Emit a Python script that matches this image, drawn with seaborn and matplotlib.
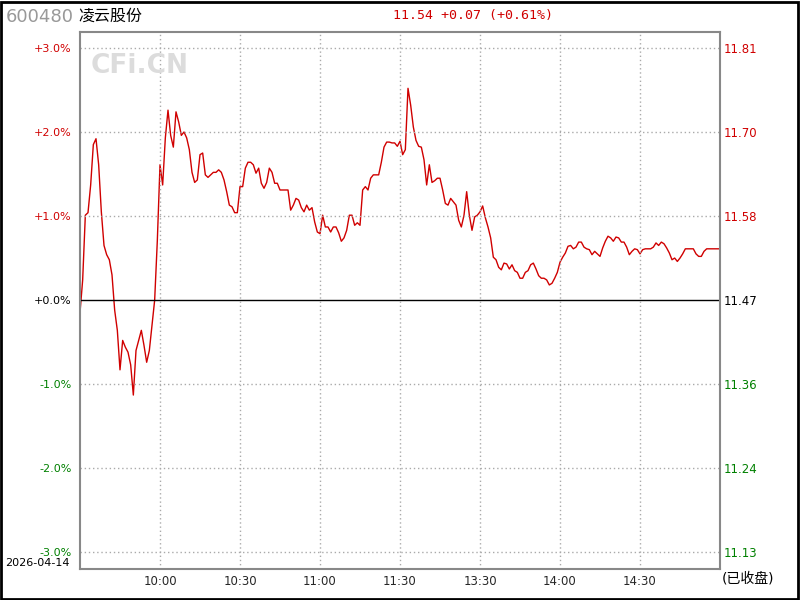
import matplotlib
matplotlib.use("Agg")
import matplotlib.pyplot as plt
import seaborn as sns
import pandas as pd
from matplotlib.patches import Rectangle

# stock info
code = "600480"
name = "凌云股份"
quote = "11.54 +0.07 (+0.61%)"
trade_date = "2026-04-14"
status = "(已收盘)"

# percent change vs previous close, one value per minute (9:30-11:30, 13:00-15:00)
pct = [
    -0.15, 0.24, 1.01, 1.04, 1.37, 1.85, 1.92, 1.61, 1.05, 0.65,
    0.54, 0.48, 0.30, -0.12, -0.36, -0.83, -0.48, -0.56, -0.62, -0.77,
    -1.13, -0.60, -0.48, -0.36, -0.54, -0.74, -0.60, -0.30, 0.00, 0.71,
    1.61, 1.37, 1.93, 2.26, 1.96, 1.82, 2.24, 2.12, 1.96, 2.00,
    1.93, 1.79, 1.52, 1.40, 1.43, 1.73, 1.75, 1.49, 1.46, 1.49,
    1.52, 1.52, 1.55, 1.52, 1.43, 1.29, 1.13, 1.11, 1.04, 1.04,
    1.35, 1.35, 1.57, 1.64, 1.64, 1.61, 1.51, 1.57, 1.39, 1.33,
    1.40, 1.57, 1.52, 1.39, 1.39, 1.31, 1.31, 1.31, 1.31, 1.07,
    1.13, 1.21, 1.19, 1.10, 1.05, 1.13, 1.07, 1.10, 0.93, 0.81,
    0.79, 1.01, 0.87, 0.87, 0.81, 0.87, 0.87, 0.80, 0.70, 0.74,
    0.83, 1.01, 1.01, 0.89, 0.92, 0.89, 1.31, 1.35, 1.31, 1.45,
    1.49, 1.49, 1.49, 1.64, 1.82, 1.88, 1.88, 1.87, 1.87, 1.83,
    1.89, 1.73, 1.79, 2.52, 2.32, 2.06, 1.90, 1.83, 1.82, 1.67,
    1.37, 1.61, 1.40, 1.42, 1.45, 1.45, 1.31, 1.15, 1.13, 1.21,
    1.17, 1.13, 0.95, 0.87, 1.01, 1.29, 1.01, 0.83, 0.99, 1.01,
    1.05, 1.12, 0.98, 0.87, 0.74, 0.51, 0.48, 0.39, 0.36, 0.44,
    0.43, 0.37, 0.42, 0.35, 0.33, 0.26, 0.26, 0.33, 0.35, 0.42,
    0.44, 0.37, 0.29, 0.26, 0.26, 0.24, 0.18, 0.20, 0.26, 0.33,
    0.45, 0.51, 0.56, 0.64, 0.65, 0.61, 0.63, 0.69, 0.69, 0.63,
    0.61, 0.60, 0.54, 0.58, 0.55, 0.52, 0.62, 0.70, 0.76, 0.74,
    0.70, 0.75, 0.74, 0.69, 0.69, 0.63, 0.54, 0.58, 0.61, 0.60,
    0.55, 0.60, 0.61, 0.61, 0.61, 0.63, 0.68, 0.65, 0.69, 0.67,
    0.62, 0.56, 0.48, 0.50, 0.46, 0.50, 0.55, 0.61, 0.61, 0.61,
    0.61, 0.55, 0.52, 0.52, 0.58, 0.61, 0.61, 0.61, 0.61, 0.61, 0.61,
]

# axis labels
pct_ticks = [3, 2, 1, 0, -1, -2, -3]
pct_labels = ["+3.0%", "+2.0%", "+1.0%", "+0.0%", "-1.0%", "-2.0%", "-3.0%"]
price_labels = ["11.81", "11.70", "11.58", "11.47", "11.36", "11.24", "11.13"]
time_ticks = [30, 60, 90, 120, 150, 180, 210]
time_labels = ["10:00", "10:30", "11:00", "11:30", "13:30", "14:00", "14:30"]

RED = "#d00000"
GREEN = "#008000"

sns.set_style("white")
plt.rcParams["font.family"] = ["DejaVu Sans", "Noto Sans CJK SC"]

df = pd.DataFrame({"minute": range(len(pct)), "pct": pct})

fig = plt.figure(figsize=(8, 6), dpi=100)
ax = fig.add_axes([80 / 800, 31 / 600, 640 / 800, 537 / 600])

sns.lineplot(data=df, x="minute", y="pct", ax=ax, color=RED, linewidth=1.0)

ax.set_xlim(0, 240)
ax.set_ylim(-3.2, 3.19)

# dotted grid + zero line
for y in pct_ticks:
    if y == 0:
        ax.axhline(0, color="black", linewidth=1.0)
    else:
        ax.axhline(y, color="#aaaaaa", linewidth=1.0, linestyle=(0, (1, 2)))
for x in time_ticks:
    ax.axvline(x, color="#aaaaaa", linewidth=1.0, linestyle=(0, (1, 2)))

for s in ax.spines.values():
    s.set_color("#888888")
    s.set_linewidth(1.5)

ax.set_xlabel("")
ax.set_ylabel("")
ax.set_yticks(pct_ticks)
ax.set_yticklabels(pct_labels, fontsize=8)
ax.set_xticks(time_ticks)
ax.set_xticklabels(time_labels, fontsize=8.5)
ax.tick_params(axis="both", length=0)
ax.tick_params(axis="y", pad=6)
ax.tick_params(axis="x", pad=4)

def tick_color(v):
    return RED if v > 0 else (GREEN if v < 0 else "black")

for lab, v in zip(ax.get_yticklabels(), pct_ticks):
    lab.set_color(tick_color(v))

ax2 = ax.twinx()
ax2.set_ylim(ax.get_ylim())
ax2.set_yticks(pct_ticks)
ax2.set_yticklabels(price_labels, fontsize=8.5)
ax2.tick_params(axis="y", length=0, pad=3)
for lab, v in zip(ax2.get_yticklabels(), pct_ticks):
    lab.set_color(tick_color(v))
for s in ax2.spines.values():
    s.set_visible(False)

# watermark
ax.text(0.016, 0.96, "CFi.CN", transform=ax.transAxes, fontsize=19,
        fontweight="bold", color="#dcdcdc", ha="left", va="top")

# header and footer texts
fig.text(6 / 800, 1 - 17 / 600, code, fontsize=13, color="#999999", va="center")
fig.text(78 / 800, 1 - 16 / 600, name, fontsize=11.5, color="black", va="center")
fig.text(393 / 800, 1 - 15 / 600, quote, fontsize=9.5, color=RED, va="center",
         ha="left", family="DejaVu Sans Mono")
fig.text(5 / 800, 1 - 563 / 600, trade_date, fontsize=8, color="black", va="center")
fig.text(722 / 800, 1 - 579 / 600, status, fontsize=10, color="black", va="center")

# outer black border
fig.patches.append(Rectangle((0.001, 0.0015), 0.997, 0.996, transform=fig.transFigure,
                             fill=False, edgecolor="black", linewidth=2))

fig.savefig("out.png", dpi=100)
